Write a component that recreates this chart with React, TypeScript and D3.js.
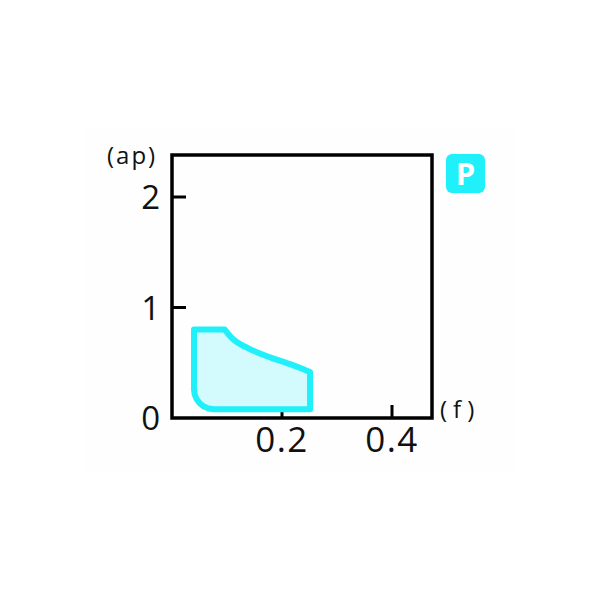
import React from "react";
import * as d3 from "d3";

const xTicks = [0.2, 0.4];
const yTicks = [1, 2];
const xTickLabels = ["0.2", "0.4"];
const yTickLabels = ["1", "2"];
// upper boundary (curved)
const curveF = [0.096, 0.109, 0.138, 0.169, 0.2, 0.229, 0.251];
const curveAp = [0.8, 0.722, 0.633, 0.566, 0.512, 0.462, 0.416];
// rest of the outline (straight + rounded corner)
const outlineF = [0.251, 0.251, 0.076, 0.0667, 0.058, 0.0505, 0.0448, 0.0412, 0.04, 0.04];
const outlineAp = [0.416, 0.08, 0.08, 0.086, 0.104, 0.133, 0.17, 0.213, 0.26, 0.8];
const xLabel = "(f)";
const yLabel = "(ap)";
const badge = "P";

export default function App() {
  const left = 172, right = 432, top = 155, bottom = 418;
  const x = d3.scaleLinear().domain([0, 0.4]).range([left, 392]);
  const y = d3.scaleLinear().domain([0, 2]).range([bottom, 197]);
  const cPts: [number, number][] = curveF.map((f, i) => [f, curveAp[i]]);
  const oPts: [number, number][] = outlineF.map((f, i) => [f, outlineAp[i]]);
  const curveGen = d3
    .line<[number, number]>()
    .x((d) => x(d[0]))
    .y((d) => y(d[1]))
    .curve(d3.curveMonotoneX);
  const linGen = d3
    .line<[number, number]>()
    .x((d) => x(d[0]))
    .y((d) => y(d[1]));
  const cPath = curveGen(cPts) || "";
  const oPath = (linGen(oPts) || "").replace(/^M/, "L");
  const d = cPath + oPath + "Z";
  const font = "'Open Sans', 'Noto Sans', sans-serif";
  return (
    <svg width={600} height={600} style={{ position: "absolute", left: 0, top: 0 }}>
      <rect x={0} y={0} width={600} height={600} fill="#ffffff" />
      <rect x={84} y={128} width={431} height={345} fill="#fefefe" />
      {xTicks.map((t) => (
        <line key={"xt" + t} x1={x(t)} x2={x(t)} y1={bottom} y2={bottom - 13} stroke="#000" strokeWidth={3} />
      ))}
      {yTicks.map((t) => (
        <line key={"yt" + t} x1={left} x2={left + 14} y1={y(t)} y2={y(t)} stroke="#000" strokeWidth={3} />
      ))}
      <path d={d} fill="#d3fafd" stroke="#1ff0fa" strokeWidth={6} strokeLinejoin="round" />
      <rect x={left} y={top} width={right - left} height={bottom - top} fill="none" stroke="#000" strokeWidth={3.5} />
      {xTicks.map((t, i) => (
        <text key={"xl" + t} x={x(t)} y={452} textAnchor="middle" fontFamily={font} fontSize={35} letterSpacing={1.5} fill="#111">
          {xTickLabels[i]}
        </text>
      ))}
      {yTicks.map((t, i) => (
        <text key={"yl" + t} x={160} y={y(t) + 12} textAnchor="end" fontFamily={font} fontSize={33} fill="#111">
          {yTickLabels[i]}
        </text>
      ))}
      <text x={160} y={y(0) + 12} textAnchor="end" fontFamily={font} fontSize={33} fill="#111">0</text>
      <text x={107} y={164} fontFamily={font} fontSize={24} letterSpacing={2} fill="#111">{yLabel}</text>
      <text x={440} y={418} fontFamily={font} fontSize={24} letterSpacing={6} fill="#111">{xLabel}</text>
      <rect x={446} y={154} width={39} height={39} rx={6} fill="#1ff0fa" />
      <text x={465.5} y={185} textAnchor="middle" fontFamily={font} fontWeight={700} fontSize={31} fill="#fff">{badge}</text>
    </svg>
  );
}
